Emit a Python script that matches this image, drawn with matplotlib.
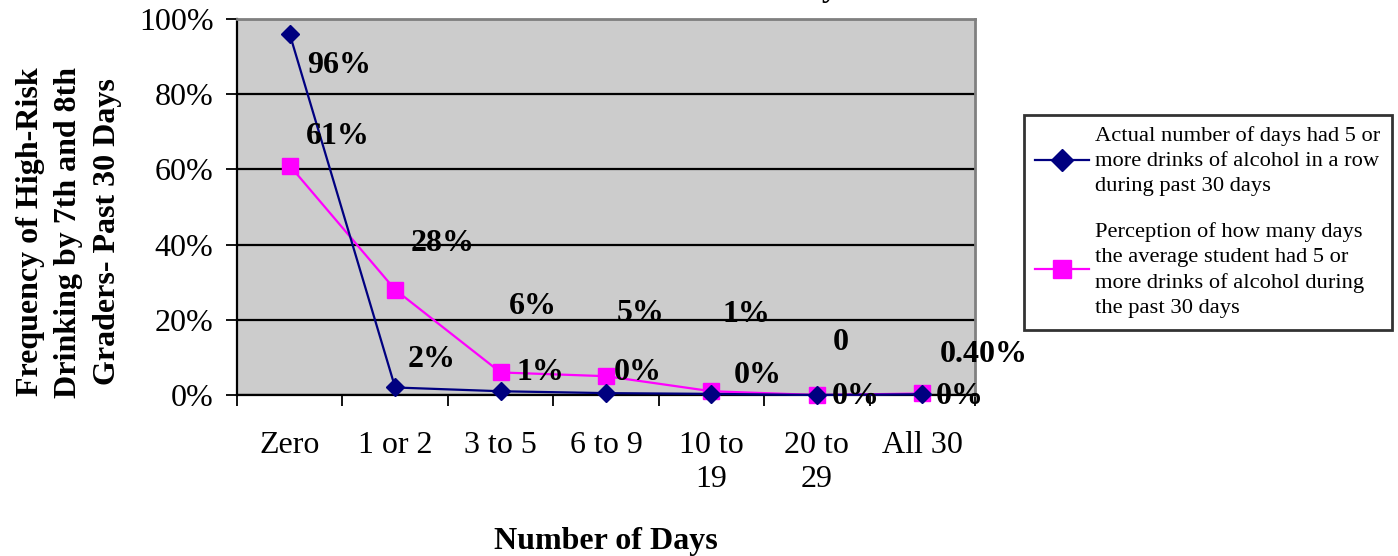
import matplotlib.pyplot as plt
from matplotlib.ticker import FixedLocator, PercentFormatter

categories = ["Zero", "1 or 2", "3 to 5", "6 to 9", "10 to\n19", "20 to\n29", "All 30"]
actual = [96, 2, 1, 0.5, 0.3, 0, 0.2]
perceived = [61, 28, 6, 5, 1, 0, 0.4]
actual_labels = ["96%", "2%", "1%", "0%", "0%", "0%", "0%"]
perceived_labels = ["61%", "28%", "6%", "5%", "1%", "0", "0.40%"]

actual_name = "Actual number of days had 5 or\nmore drinks of alcohol in a row\nduring past 30 days"
perceived_name = ("Perception of how many days\nthe average student had 5 or\n"
                  "more drinks of alcohol during\nthe past 30 days")

# label offsets in pixels (dx, dy) from each point
actual_off = [(49, -31), (36, 28), (40, 19), (32, 21), (46, 18), (39, -1), (37, -2)]
perc_off = [(48, 29), (47, 46), (32, 66), (35, 63), (35, 77), (24, 53), (61, 39)]

plt.rcParams['font.family'] = ['Liberation Serif', 'DejaVu Serif']

fig = plt.figure(figsize=(13.98, 5.56), dpi=100)
ax = fig.add_axes([237 / 1398, 1 - 395 / 556, 738 / 1398, 376 / 556])
ax.set_facecolor('#CCCCCC')

x = [i + 0.5 for i in range(len(categories))]
l1, = ax.plot(x, actual, color='#000080', marker='D', markersize=9, lw=1.6,
              label=actual_name, zorder=4, clip_on=False)
l2, = ax.plot(x, perceived, color='#FF00FF', marker='s', markersize=11, lw=1.6,
              label=perceived_name, zorder=3, clip_on=False)

for xi, v, t, (dx, dy) in zip(x, actual, actual_labels, actual_off):
    ax.annotate(t, (xi, v), xytext=(dx * 0.72, dy * 0.72), textcoords='offset points',
                ha='center', va='center', fontsize=23, fontweight='bold', zorder=5,
                annotation_clip=False)
for xi, v, t, (dx, dy) in zip(x, perceived, perceived_labels, perc_off):
    ax.annotate(t, (xi, v), xytext=(dx * 0.72, dy * 0.72), textcoords='offset points',
                ha='center', va='center', fontsize=23, fontweight='bold', zorder=5,
                annotation_clip=False)

ax.set_xlim(0, len(categories))
ax.set_ylim(0, 100)
ax.set_yticks(range(0, 101, 20))
ax.yaxis.set_major_formatter(PercentFormatter(decimals=0))
ax.yaxis.grid(True, color='black', lw=1.6)
ax.set_axisbelow(True)

ax.xaxis.set_major_locator(FixedLocator(range(len(categories) + 1)))
ax.xaxis.set_minor_locator(FixedLocator(x))
ax.set_xticklabels([])
ax.set_xticklabels(categories, minor=True)
ax.tick_params(axis='x', which='major', length=8, width=1.3, direction='out')
ax.tick_params(axis='x', which='minor', length=0, pad=26, labelsize=23)
ax.tick_params(axis='y', length=8, width=1.3, pad=9, labelsize=23)

for s in ['top', 'right']:
    ax.spines[s].set_color('#808080')
    ax.spines[s].set_linewidth(2)
for s in ['left', 'bottom']:
    ax.spines[s].set_color('black')
    ax.spines[s].set_linewidth(1.6)

ax.set_xlabel("Number of Days", fontsize=23, fontweight='bold', labelpad=24)
fig.text(69 / 1398, 1 - 232 / 556,
         "Frequency of High-Risk\nDrinking by 7th and 8th\nGraders- Past 30 Days",
         rotation=90, ha='center', va='center', fontsize=23, fontweight='bold',
         multialignment='center', linespacing=1.45)

# remnant of the chart title cut off at the top
fig.text(830 / 1398, 1 + 4 / 556, "y", ha='center', va='baseline',
         fontsize=23, fontweight='bold')

leg = fig.legend(handles=[l1, l2], loc='upper left',
                 bbox_to_anchor=(1024 / 1398, 1 - 115 / 556),
                 prop={'size': 16.2}, frameon=True, fancybox=False, edgecolor='black',
                 handlelength=2.4, labelspacing=1.15, borderpad=0.5,
                 handletextpad=0.27, borderaxespad=0, markerscale=1.2)
leg.get_frame().set_linewidth(2)
for t in leg.get_texts():
    t.set_linespacing(1.43)

fig.savefig('out.png', dpi=100)
